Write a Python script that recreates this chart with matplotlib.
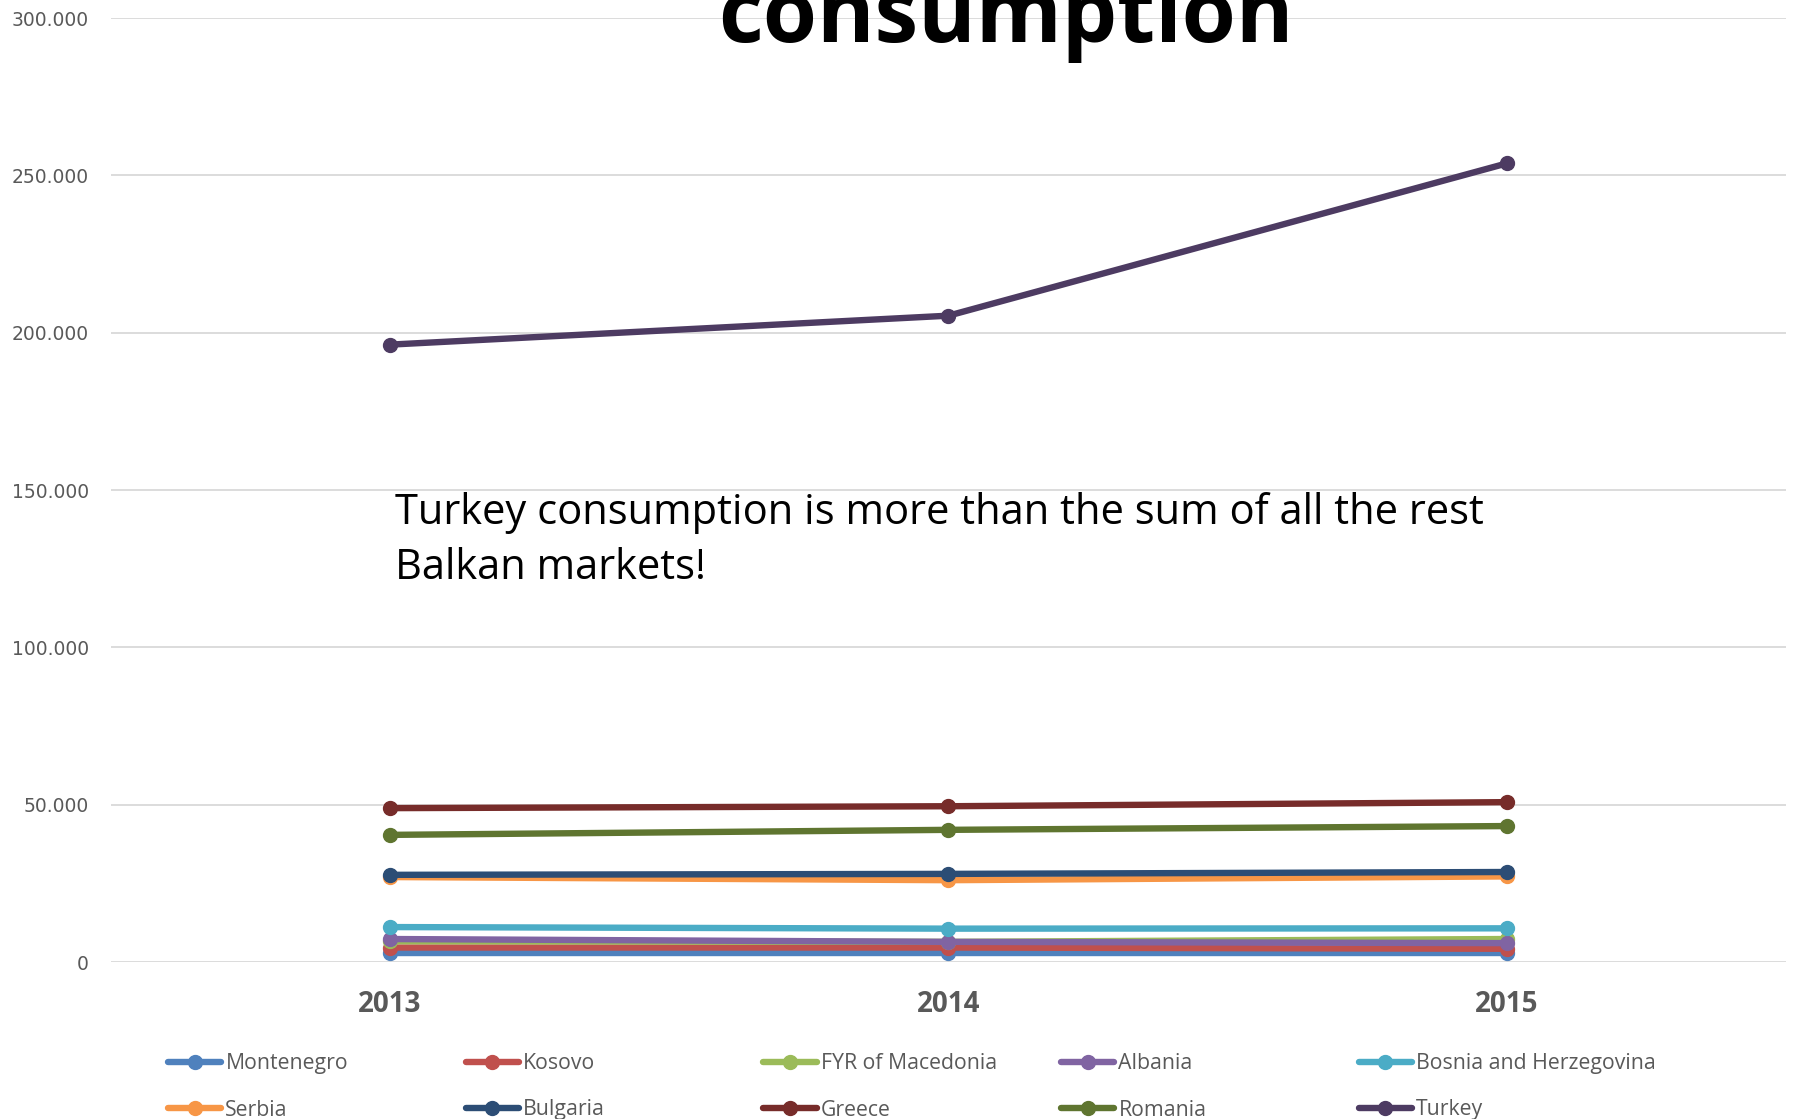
import matplotlib.pyplot as plt
from matplotlib.ticker import FuncFormatter

W, H = 1795, 1119

years = ['2013', '2014', '2015']
countries = ['Montenegro', 'Kosovo', 'FYR of Macedonia', 'Albania',
             'Bosnia and Herzegovina', 'Serbia', 'Bulgaria', 'Greece',
             'Romania', 'Turkey']
montenegro = [2900, 2900, 2900]
kosovo = [4600, 4600, 4200]
macedonia = [6600, 6400, 7300]
albania = [7300, 6400, 6000]
bosnia = [11100, 10600, 10700]
serbia = [27000, 26000, 27200]
bulgaria = [27700, 28000, 28600]
greece = [48900, 49500, 50800]
romania = [40400, 42000, 43200]
turkey = [196200, 205400, 253800]
series = [montenegro, kosovo, macedonia, albania, bosnia,
          serbia, bulgaria, greece, romania, turkey]
colors = ['#4F81BD', '#C0504D', '#9BBB59', '#8064A2', '#4BACC6',
          '#F79646', '#2C4D75', '#772C2A', '#5F7530', '#4D3B62']

fig = plt.figure(figsize=(W / 100, H / 100), dpi=100)
ax = fig.add_axes([111 / W, 1 - 962 / H, (1786 - 111) / W, (962 - 18) / H])

x = range(len(years))
handles = []
for name, vals, c in zip(countries, series, colors):
    h, = ax.plot(x, vals, color=c, lw=4.6, marker='o', ms=10,
                 solid_capstyle='round', label=name, zorder=3)
    handles.append(h)

ax.set_xlim(-0.5, 2.5)
ax.set_ylim(0, 300000)
ax.set_yticks(range(0, 300001, 50000))
ax.yaxis.set_major_formatter(FuncFormatter(lambda v, p: f'{int(v):,}'.replace(',', '.')))
ax.set_xticks(list(x))
ax.set_xticklabels(years, fontsize=20, fontweight='bold', color='#595959',
                   family='Open Sans')
ax.tick_params(axis='y', labelsize=13.5, labelcolor='#595959', length=0, pad=16)
ax.tick_params(axis='x', length=0, pad=20)
ax.grid(axis='y', color='#D9D9D9', lw=1.3)
ax.set_axisbelow(True)
for s in ax.spines.values():
    s.set_visible(False)

ax.text(395 / W, 1 - 492 / H, 'Turkey consumption is more than the sum of all the rest\nBalkan markets!',
        transform=fig.transFigure, fontsize=30, family='Open Sans', va='top',
        ha='left', linespacing=1.42)

fig.text(1006 / W, 1 - 42 / H, 'consumption', ha='center', va='baseline',
         fontsize=63, fontweight='bold', family='Open Sans')

# legend: 5 equally spaced columns, 2 rows
for k in range(5):
    leg = fig.legend([handles[k], handles[k + 5]], [countries[k], countries[k + 5]],
                     loc='upper left', bbox_to_anchor=((168 + k * 297.7) / W, 1 - 1053 / H),
                     frameon=False, handlelength=2.5, handletextpad=0.2,
                     labelspacing=1.2, borderpad=0, borderaxespad=0,
                     prop={'family': 'Open Sans', 'size': 15.3})
    for t in leg.get_texts():
        t.set_color('#595959')

fig.savefig('out.png', dpi=100)
